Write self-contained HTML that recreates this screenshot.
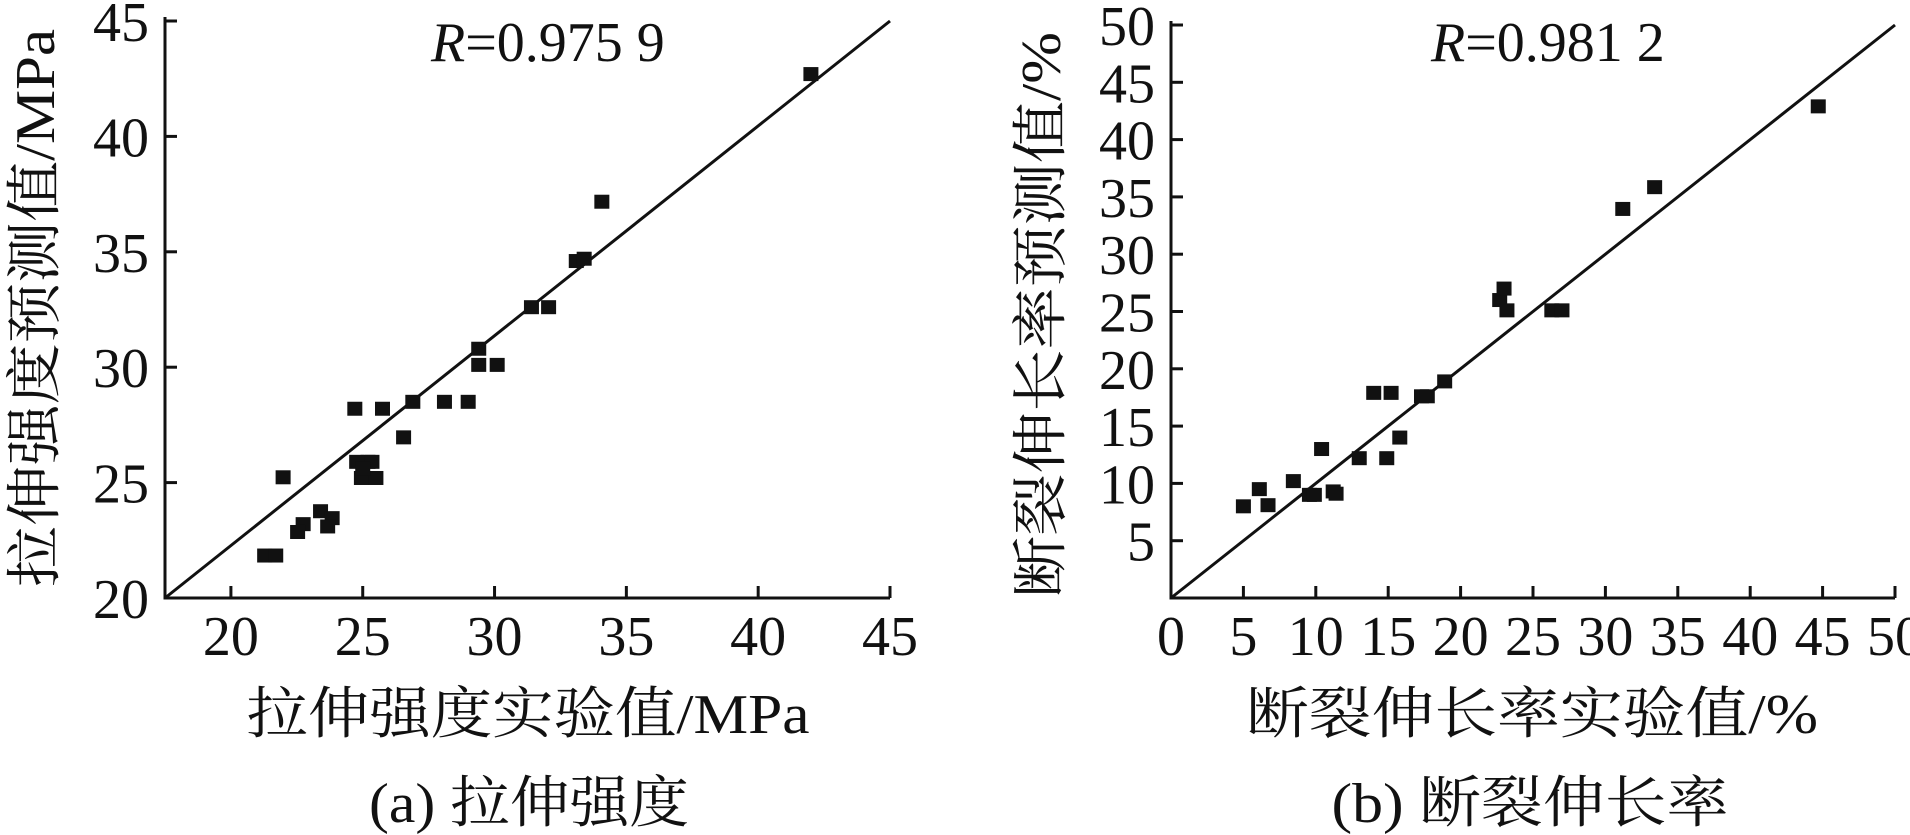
<!DOCTYPE html>
<html><head><meta charset="utf-8"><style>
html,body{margin:0;padding:0;background:#fff}
svg{display:block}
text{font-family:"Liberation Serif","Noto Serif CJK SC","Noto Sans CJK SC",serif;fill:#111}
</style></head><body>
<svg id="c" width="1910" height="835" viewBox="0 0 1910 835" xmlns="http://www.w3.org/2000/svg"></svg>
<script>
// Panel (a) data: tensile strength, experimental vs predicted (MPa)
const aX = [42.0,34.07,33.1,33.4,31.4,32.05,29.4,29.4,30.1,26.9,28.1,29.0,24.7,25.75,26.55,24.77,25.2,25.35,24.95,25.5,25.0,21.98,23.4,23.84,23.67,22.74,22.53,21.28,21.7];
const aY = [42.7,37.17,34.6,34.7,32.6,32.6,30.8,30.1,30.1,28.5,28.5,28.5,28.2,28.2,26.96,25.9,25.9,25.9,25.2,25.2,25.6,25.23,23.76,23.46,23.1,23.2,22.86,21.84,21.84];
const aXTicks = [20,25,30,35,40,45];
const aYTicks = [20,25,30,35,40,45];
// Panel (b) data: elongation at break (%)
const bX = [44.7,33.4,31.2,22.7,23.0,23.2,26.3,27.0,18.9,17.3,17.7,14.0,15.2,15.8,14.9,13.0,10.4,8.45,9.56,9.9,11.2,11.4,6.1,6.7,5.0];
const bY = [42.9,35.85,33.95,26.0,27.0,25.1,25.1,25.1,18.9,17.6,17.6,17.9,17.9,14.0,12.2,12.2,13.0,10.2,9.0,9.0,9.3,9.1,9.5,8.1,8.0];
const bXTicks = [0,5,10,15,20,25,30,35,40,45,50];
const bYTicks = [5,10,15,20,25,30,35,40,45,50];

const NS="http://www.w3.org/2000/svg";
const svg=document.getElementById('c');
function mk(tag,attrs,parent){const e=document.createElementNS(NS,tag);for(const k in attrs)e.setAttribute(k,attrs[k]);(parent||svg).appendChild(e);return e;}

function panel(p){
  const g=mk('g',{});
  
  
  const sx=v=>p.x0+(v-p.xmin)/(p.xmax-p.xmin)*(p.x1-p.x0);
  const sy=v=>p.y0-(v-p.ymin)/(p.ymax-p.ymin)*(p.y0-p.y1);
  const ax=mk('path',{d:`M${p.x0} ${p.y1-4}V${p.y0}H${p.x1}`,fill:'none',stroke:'#111','stroke-width':3},g);
  
  
  p.xt.forEach(t=>{
    const x=sx(t);
    if(t!==p.xmin){const l=mk('line',{x1:x,x2:x,y1:p.y0,y2:p.y0-12,stroke:'#111','stroke-width':3},g);
    
    }
    const tx=mk('text',{x:x,y:655,'font-size':56,'text-anchor':'middle'},g);
    
    
    tx.textContent=t;
  });
  p.yt.forEach(t=>{
    const y=sy(t);
    if(t!==p.ymin){const l=mk('line',{x1:p.x0,x2:p.x0+12,y1:y,y2:y,stroke:'#111','stroke-width':3},g);
    
    }
    const tx=mk('text',{x:p.x0-16,y:y+20,'font-size':56,'text-anchor':'end'},g);
    
    
    tx.textContent=t;
  });
  const dl=mk('line',{x1:sx(p.l0[0]),y1:sy(p.l0[1]),x2:sx(p.l1[0]),y2:sy(p.l1[1]),stroke:'#111','stroke-width':3},g);
  
  
  p.X.forEach((v,i)=>{
    const r=mk('rect',{x:sx(v)-7.5,y:sy(p.Y[i])-7,width:15,height:14,fill:'#111'},g);
    
    
  });
  const rt=mk('text',{x:p.rx,y:61,'font-size':56},g);
  
  
  rt.innerHTML='<tspan font-style="italic">R</tspan>='+p.r;
  const xt=mk('text',{x:p.xtx,y:733,'font-size':56,'text-anchor':'middle',textLength:p.xtl,lengthAdjust:'spacingAndGlyphs'},g);
  
  
  xt.textContent=p.xtitle;
  const yt=mk('text',{x:0,y:0,'font-size':56,'text-anchor':'middle',textLength:p.ytl,lengthAdjust:'spacingAndGlyphs',transform:`translate(${p.ytx},${p.yty}) rotate(-90)`},g);
  
  
  yt.textContent=p.ytitle;
  const cp=mk('text',{x:p.cx,y:822,'font-size':56,'text-anchor':'middle',textLength:p.cl,lengthAdjust:'spacingAndGlyphs'},g);
  
  
  cp.textContent=p.cap;
}
panel({name:'panel-a-tensile-strength',x0:165,x1:890,y0:598,y1:21,xmin:17.5,xmax:45,ymin:20,ymax:45,
  xt:aXTicks,yt:aYTicks,X:aX,Y:aY,l0:[17.5,20],l1:[45,45],rx:431,r:'0.975 9',
  xtitle:'拉伸强度实验值/MPa',xtx:528,xtl:563,ytitle:'拉伸强度预测值/MPa',ytx:54,yty:308,ytl:558,
  cap:'(a) 拉伸强度',cx:529,cl:320});
panel({name:'panel-b-elongation',x0:1171,x1:1895,y0:598,y1:25,xmin:0,xmax:50,ymin:0,ymax:50,
  xt:bXTicks,yt:bYTicks,X:bX,Y:bY,l0:[0,0],l1:[50,50],rx:1431,r:'0.981 2',
  xtitle:'断裂伸长率实验值/%',xtx:1532,xtl:572,ytitle:'断裂伸长率预测值/%',ytx:1060,yty:315,ytl:566,
  cap:'(b) 断裂伸长率',cx:1530,cl:397});
</script>
</body></html>
